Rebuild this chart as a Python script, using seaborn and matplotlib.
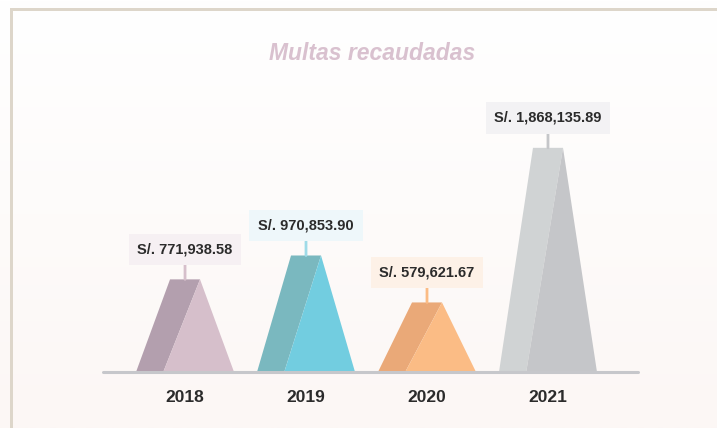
import numpy as np
import matplotlib.pyplot as plt
import seaborn as sns
from matplotlib.patches import Polygon, Rectangle
from matplotlib.colors import LinearSegmentedColormap

years = ["2018", "2019", "2020", "2021"]
amounts = [771938.58, 970853.90, 579621.67, 1868135.89]
labels = ["S/. 771,938.58", "S/. 970,853.90", "S/. 579,621.67", "S/. 1,868,135.89"]

left_colors = ["#b39fae", "#7ab8bf", "#eaa978", "#d0d3d4"]
right_colors = ["#d6bfcb", "#72cde0", "#fbbc85", "#c5c6c9"]
box_colors = ["#f6f0f3", "#eef7fa", "#fdf1e7", "#f3f2f4"]
stem_colors = ["#d6bfcb", "#9fdbe8", "#fbbc85", "#c5c6c9"]

sns.set_theme(style="white")
plt.rcParams["font.family"] = ["Liberation Sans", "DejaVu Sans"]

W, H = 717, 428
fig = plt.figure(figsize=(W / 100, H / 100), dpi=100)

# soft background, white at top to light pink at bottom
bg = fig.add_axes([0, 0, 1, 1], zorder=-10)
cmap = LinearSegmentedColormap.from_list("bg", ["#ffffff", "#fcf7f5"])
bg.imshow(np.linspace(0, 1, 256).reshape(-1, 1), cmap=cmap, aspect="auto",
          extent=[0, 1, 0, 1], origin="upper")
bg.axis("off")

# beige frame on left and top
frame = "#ddd6ca"
fig.add_artist(Rectangle((10 / W, 0), 3 / W, (H - 8) / H, transform=fig.transFigure,
                         color=frame, lw=0))
fig.add_artist(Rectangle((10 / W, (H - 11) / H), 1, 3 / H, transform=fig.transFigure,
                         color=frame, lw=0))

ax = fig.add_axes([103 / W, (H - 372) / H, 535 / W, 312 / H])
ax.set_facecolor("none")
ax.set_xlim(-0.678, 3.744)
ax.set_ylim(0, 2.6e6)

base_half, top_half, split = 0.405, 0.124, 0.18
for i, (val, lbl) in enumerate(zip(amounts, labels)):
    dark = [(i - base_half, 0), (i - split, 0), (i + top_half, val), (i - top_half, val)]
    light = [(i - split, 0), (i + base_half, 0), (i + top_half, val)]
    ax.add_patch(Polygon(dark, closed=True, fc=left_colors[i], ec="none", zorder=2))
    ax.add_patch(Polygon(light, closed=True, fc=right_colors[i], ec="none", zorder=2))
    ax.annotate(lbl, xy=(i, val), xytext=(0, 30), textcoords="offset pixels",
                ha="center", va="center", fontsize=10.5, fontweight="bold", color="#2b2b2b",
                bbox=dict(boxstyle="square,pad=0.6", fc=box_colors[i], ec="none"),
                arrowprops=dict(arrowstyle="-", color=stem_colors[i], lw=2,
                                shrinkA=0, shrinkB=0),
                zorder=3)

ax.axhline(0, color="#c6c7cb", lw=2.2, zorder=4, clip_on=False)

ax.set_xticks(range(len(years)))
ax.set_xticklabels(years, fontsize=12.5, fontweight="bold", color="#2b2b2b")
ax.tick_params(axis="x", length=0, pad=13)
ax.set_yticks([])
sns.despine(ax=ax, left=True, bottom=True)

fig.text(372 / W, 1 - 53 / H, "Multas recaudadas", ha="center", va="center",
         fontsize=16.5, fontweight="bold", fontstyle="italic", color="#d9c1cf")

fig.savefig("out.png", dpi=100)
